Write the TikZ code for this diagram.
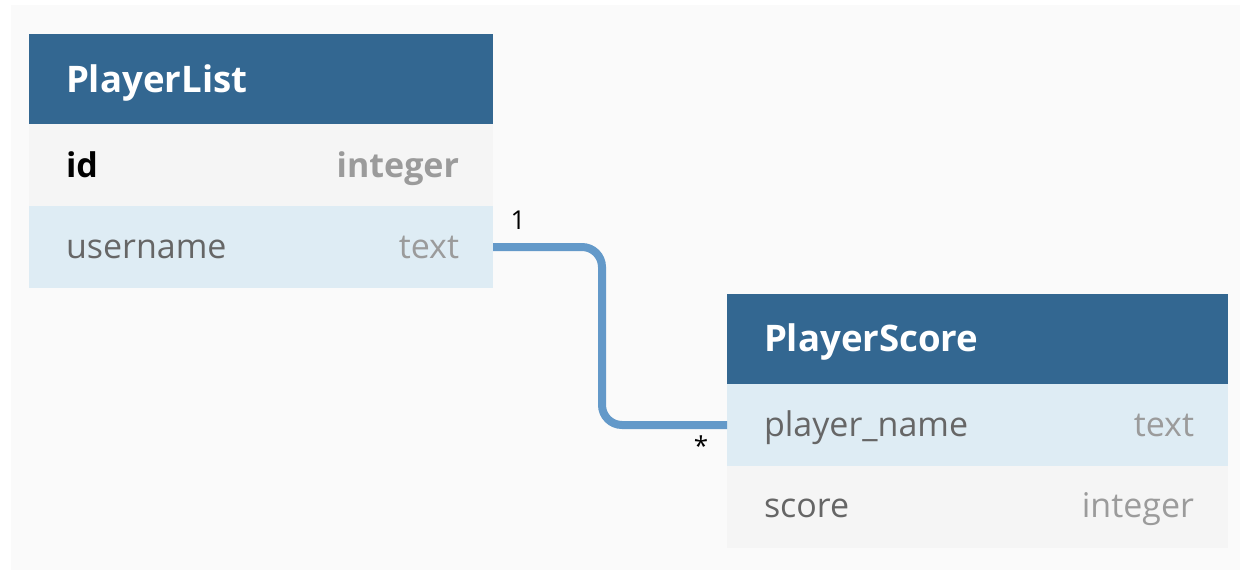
\documentclass[tikz,border=0pt]{standalone}
\usepackage{fontspec}
\setmainfont{Open Sans}
\usetikzlibrary{positioning}

\definecolor{headblue}{HTML}{336791}
\definecolor{rowblue}{HTML}{DEECF4}
\definecolor{rowgray}{HTML}{F5F5F5}
\definecolor{linkblue}{HTML}{6399C9}
\definecolor{panelgray}{HTML}{FAFAFA}
\definecolor{fieldgray}{HTML}{666666}
\definecolor{typegray}{HTML}{9B9B9B}

\begin{document}
\begin{tikzpicture}[
            x = 0.5pt, y = -0.5pt, % pixel grid of the schema
            inner sep = 0pt,
            outer sep = 0pt,
            node distance = 0pt
        ]

        \tikzset{
            headbox/.style = {fill = headblue, minimum height = 45pt},
            rowbox/.style = {minimum height = 41pt},
            titletext/.style = {text = white, font = \fontsize{18.3}{21}\selectfont\bfseries},
            fieldtext/.style = {text = fieldgray, font = \fontsize{17}{20}\selectfont},
            keytext/.style = {text = black, font = \fontsize{17}{20}\selectfont\bfseries},
            typetext/.style = {text = typegray, font = \fontsize{17}{20}\selectfont},
            cardtext/.style = {text = black, font = \fontsize{13}{15}\selectfont},
            link/.style = {draw = linkblue, line width = 4pt, rounded corners = 10pt}
        }

        \useasboundingbox (0,0) rectangle (1248,573);
        \fill[white] (0,0) rectangle (1248,573);
        \fill[panelgray] (11,5) rectangle (1240,570);

	% first table
        \node[headbox, minimum width = 232pt, anchor = north west] (listhead) at (29,34) {};
        \node[rowbox, fill = rowgray, minimum width = 232pt, below = of listhead] (listid) {};
        \node[rowbox, fill = rowblue, minimum width = 232pt, below = of listid] (listuser) {};

        \node[titletext, anchor = base west] (listtitle) at (66,92) {PlayerList};
        \node[keytext, anchor = base west] (idname) at (66,177) {id};
        \node[typetext, font = \fontsize{17}{20}\selectfont\bfseries, anchor = base east] (idtype) at (459,177) {integer};
        \node[fieldtext, anchor = base west] (username) at (66,258) {username};
        \node[typetext, anchor = base east] (usertype) at (459,258) {text};

	% second table
        \node[headbox, minimum width = 250.5pt, anchor = north west] (scorehead) at (727,294) {};
        \node[rowbox, fill = rowblue, minimum width = 250.5pt, below = of scorehead] (scorename) {};
        \node[rowbox, fill = rowgray, minimum width = 250.5pt, below = of scorename] (scorevalue) {};

        \node[titletext, anchor = base west] (scoretitle) at (764,351) {PlayerScore};
        \node[fieldtext, anchor = base west] (playername) at (764,436) {player\_name};
        \node[typetext, anchor = base east] (nametype) at (1194,436) {text};
        \node[fieldtext, anchor = base west] (scorefield) at (764,517) {score};
        \node[typetext, anchor = base east] (scoretype) at (1194,517) {integer};

	% relation
        \draw[link] (listuser.east) -- ++(109,0) |- (scorename.west);
        \node[cardtext] (onelabel) at (518,220) {1};
        \node[cardtext] (manylabel) at (701,446) {*};

  \end{tikzpicture}
\end{document}
